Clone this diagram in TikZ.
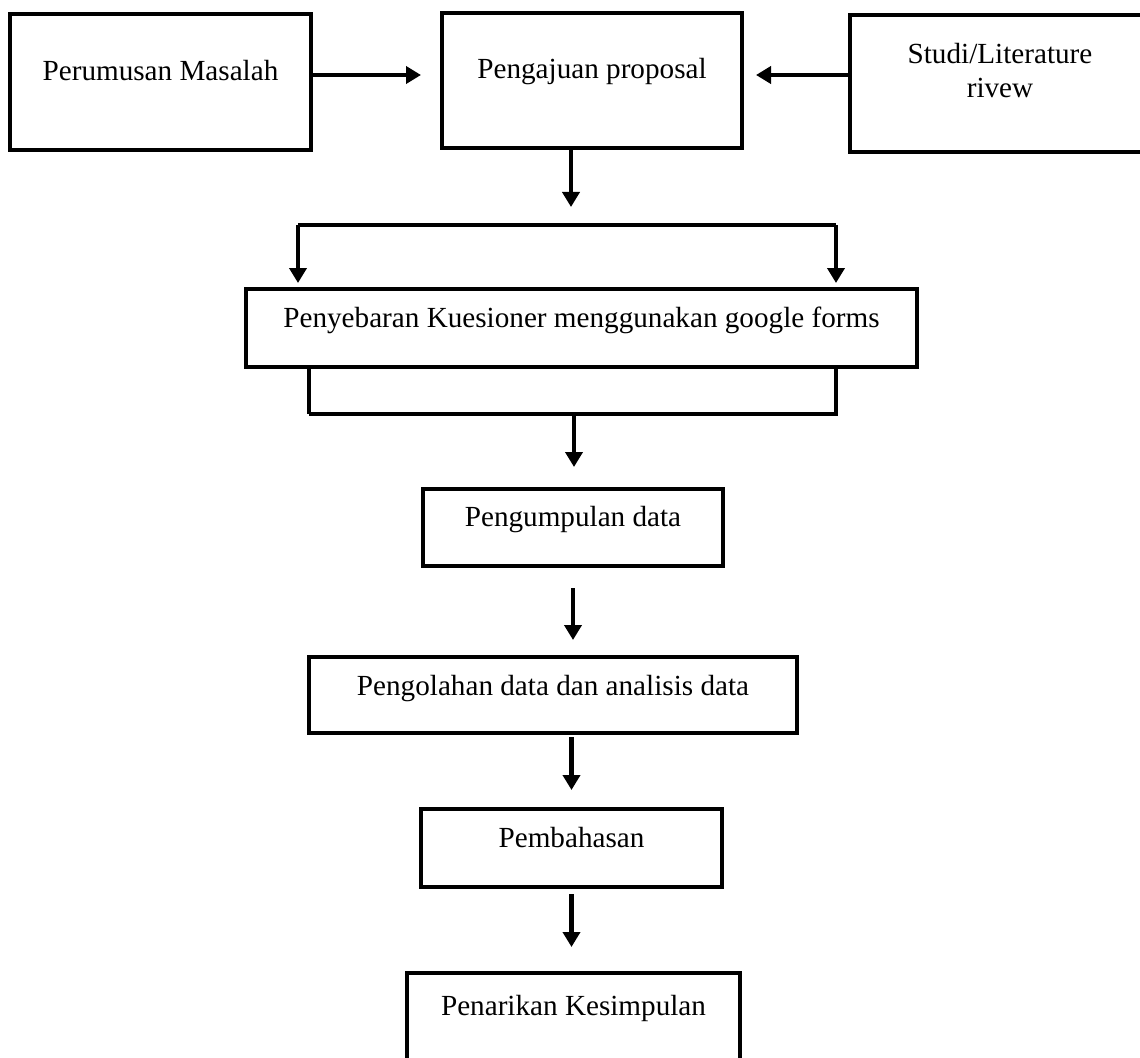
\documentclass[tikz,border=0pt]{standalone}
\usepackage{fontspec}
\setmainfont{Liberation Serif}
\usetikzlibrary{arrows.meta}
\tikzset{
    kotak/.style={draw, line width=1.8pt, anchor=north west, inner xsep=0pt, inner ysep=0pt,
        outer sep=0pt, font=\fontsize{16.6}{19.3}\selectfont},
    garis/.style={line width=2.5pt},
    panah/.style={line width=2.5pt, -{Triangle[length=3mm,width=3.4mm]}}
}

\begin{document}
\begin{tikzpicture}[x=0.2mm,y=-0.2mm]
    \useasboundingbox (0,0) rectangle (1140,1058);
    \node[kotak, minimum width=60.2mm, text height=13.2mm, text depth=14mm] (rumusan) at (10,14) {Perumusan Masalah};
    \node[kotak, minimum width=60mm, text height=13mm, text depth=14mm] (ajuan) at (442,13) {Pengajuan proposal};
    \node[kotak, minimum width=60mm, text height=16.4mm, text depth=11mm, align=center] (studi) at (850,15) {Studi/Literature\\rivew};
    \node[kotak, minimum width=134.2mm, text height=7.6mm, text depth=8mm] (sebar) at (246,289) {Penyebaran Kuesioner menggunakan google forms};
    \node[kotak, minimum width=60mm, text height=7.4mm, text depth=8mm] (kumpul) at (423,489) {Pengumpulan data};
    \node[kotak, minimum width=97.6mm, text height=7.6mm, text depth=7.6mm] (olah) at (309,657) {Pengolahan data dan analisis data};
    \node[kotak, minimum width=60.2mm, text height=7.6mm, text depth=8mm] (bahas) at (421,809) {Pembahasan};
    \node[kotak, minimum width=66.6mm, text height=8.4mm, text depth=11.5mm] (tarik) at (407,973) {Penarikan Kesimpulan};
    \coordinate (cabang) at (571,225);
    \coordinate (kiri1) at (298,225);
    \coordinate (kanan1) at (836,225);
    \coordinate (gabung) at (574,414);
    \coordinate (kiri2) at (309,414);
    \coordinate (kanan2) at (836,414);
    \draw[panah] ([yshift=1.4mm]rumusan.east) -- ([xshift=-4.2mm,yshift=1.1mm]ajuan.west);
    \draw[panah] ([yshift=1.7mm]studi.west) -- ([xshift=2.8mm,yshift=1.1mm]ajuan.east);
    \draw[panah] (ajuan.south -| cabang) -- ([yshift=3.6mm]cabang);
    \draw[garis] (kiri1) -- (kanan1);
    \draw[panah] (kiri1) -- ([yshift=1.2mm]kiri1 |- sebar.north);
    \draw[panah] (kanan1) -- ([yshift=1.2mm]kanan1 |- sebar.north);
    \draw[garis] ([yshift=-0.4mm]sebar.south -| kiri2) -- (kiri2);
    \draw[garis] (kiri2) -- (kanan2) -- (sebar.south -| kanan2);
    \draw[panah] (gabung) -- ([yshift=4.4mm]gabung |- kumpul.north);
    \draw[panah] ([yshift=-4.4mm]kumpul.south) -- ([yshift=3.4mm]kumpul.south |- olah.north);
    \draw[panah] ([yshift=-0.8mm]bahas.north |- olah.south) -- ([yshift=3.8mm]bahas.north);
    \draw[panah] ([yshift=-1.4mm]bahas.south) -- ([yshift=5.2mm]bahas.south |- tarik.north);
\end{tikzpicture}
\end{document}
